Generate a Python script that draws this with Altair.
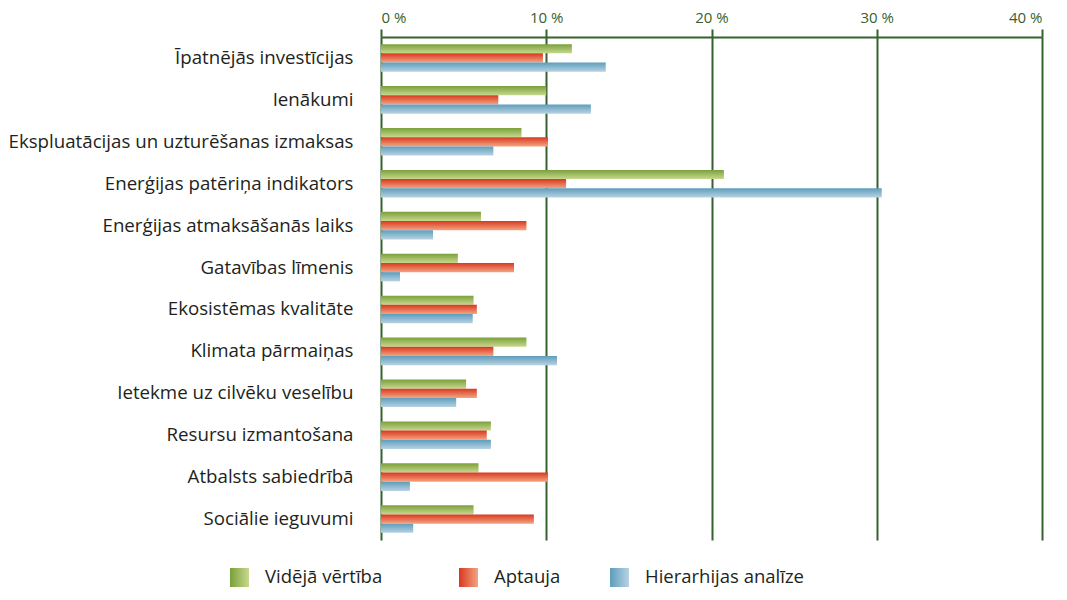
import altair as alt
import pandas as pd

categories = [
    "Īpatnējās investīcijas",
    "Ienākumi",
    "Ekspluatācijas un uzturēšanas izmaksas",
    "Enerģijas patēriņa indikators",
    "Enerģijas atmaksāšanās laiks",
    "Gatavības līmenis",
    "Ekosistēmas kvalitāte",
    "Klimata pārmaiņas",
    "Ietekme uz cilvēku veselību",
    "Resursu izmantošana",
    "Atbalsts sabiedrībā",
    "Sociālie ieguvumi",
]
series = ["Vidējā vērtība", "Aptauja", "Hierarhijas analīze"]
videja = [11.55, 10.0, 8.5, 20.75, 6.05, 4.65, 5.6, 8.8, 5.15, 6.65, 5.9, 5.6]
aptauja = [9.8, 7.1, 10.1, 11.2, 8.8, 8.05, 5.8, 6.8, 5.8, 6.4, 10.1, 9.25]
hierarhija = [13.6, 12.7, 6.8, 30.3, 3.15, 1.15, 5.55, 10.65, 4.55, 6.65, 1.75, 1.95]
x_ticks = [0, 10, 20, 30, 40]

gradients = {
    "Vidējā vērtība": ("#79a03a", "#c8d88e"),
    "Aptauja": ("#d9381f", "#f2a482"),
    "Hierarhijas analīze": ("#5e9dbc", "#b8d2e2"),
}

rows = []
for s, vals in zip(series, [videja, aptauja, hierarhija]):
    for c, v in zip(categories, vals):
        rows.append({"cat": c, "series": s, "value": v})
df = pd.DataFrame(rows)
legend_df = pd.DataFrame({"series": series})

W, H = 661, 503
FONT = "Open Sans"
GREEN = "#35622f"


def grad(s, vertical=True):
    top, bottom = gradients[s]
    return alt.LinearGradient(
        gradient="linear",
        stops=[alt.GradientStop(color=top, offset=0), alt.GradientStop(color=bottom, offset=1)],
        x1=0, y1=0,
        x2=0 if vertical else 1,
        y2=1 if vertical else 0,
    )


layers = []
for s in series:
    layers.append(
        alt.Chart(df)
        .transform_filter(alt.datum.series == s)
        .mark_bar(color=grad(s), cornerRadius=0)
        .encode(
            y=alt.Y(
                "cat:N",
                sort=categories,
                scale=alt.Scale(domain=categories, paddingInner=0.34, paddingOuter=0.17),
                axis=alt.Axis(
                    title=None, domain=False, ticks=False, grid=False,
                    labelFont=FONT, labelFontSize=18.7, labelColor="#231f20",
                    labelPadding=28, labelLimit=400,
                ),
            ),
            yOffset=alt.YOffset("series:N", sort=series, scale=alt.Scale(domain=series)),
            x=alt.X(
                "value:Q",
                scale=alt.Scale(domain=[0, 40], nice=False),
                axis=alt.Axis(
                    orient="top", title=None, values=x_ticks,
                    labelExpr="datum.value + ' %'",
                    labelFont=FONT, labelFontSize=15, labelColor=GREEN,
                    labelPadding=4,
                    grid=True, gridColor=GREEN, gridWidth=2,
                    domainColor=GREEN, domainWidth=2,
                    tickColor=GREEN, tickWidth=2, tickSize=8,
                ),
            ),
        )
    )

leg_x = {"Vidējā vērtība": 230, "Aptauja": 459, "Hierarhijas analīze": 610}
leg_top = 568 - 37
for s in series:
    base = alt.Chart(legend_df).transform_filter(alt.datum.series == s)
    layers.append(
        base.mark_rect(color=grad(s, vertical=False)).encode(
            x=alt.value(leg_x[s] - 381),
            x2=alt.value(leg_x[s] - 381 + 19),
            y=alt.value(leg_top),
            y2=alt.value(leg_top + 19),
        )
    )
    layers.append(
        base.mark_text(align="left", baseline="middle", font=FONT, fontSize=18.5, color="#231f20").encode(
            x=alt.value(leg_x[s] - 381 + 35),
            y=alt.value(leg_top + 9),
            text="series:N",
        )
    )

chart = (
    alt.layer(*layers)
    .properties(
        width=W,
        height=H,
        autosize=alt.AutoSizeParams(type="none"),
        padding={"left": 373, "top": 29, "right": 15, "bottom": 52},
    )
    .configure_view(stroke=None)
)

chart.save("out.html", embed_options={"renderer": "svg", "actions": False})
